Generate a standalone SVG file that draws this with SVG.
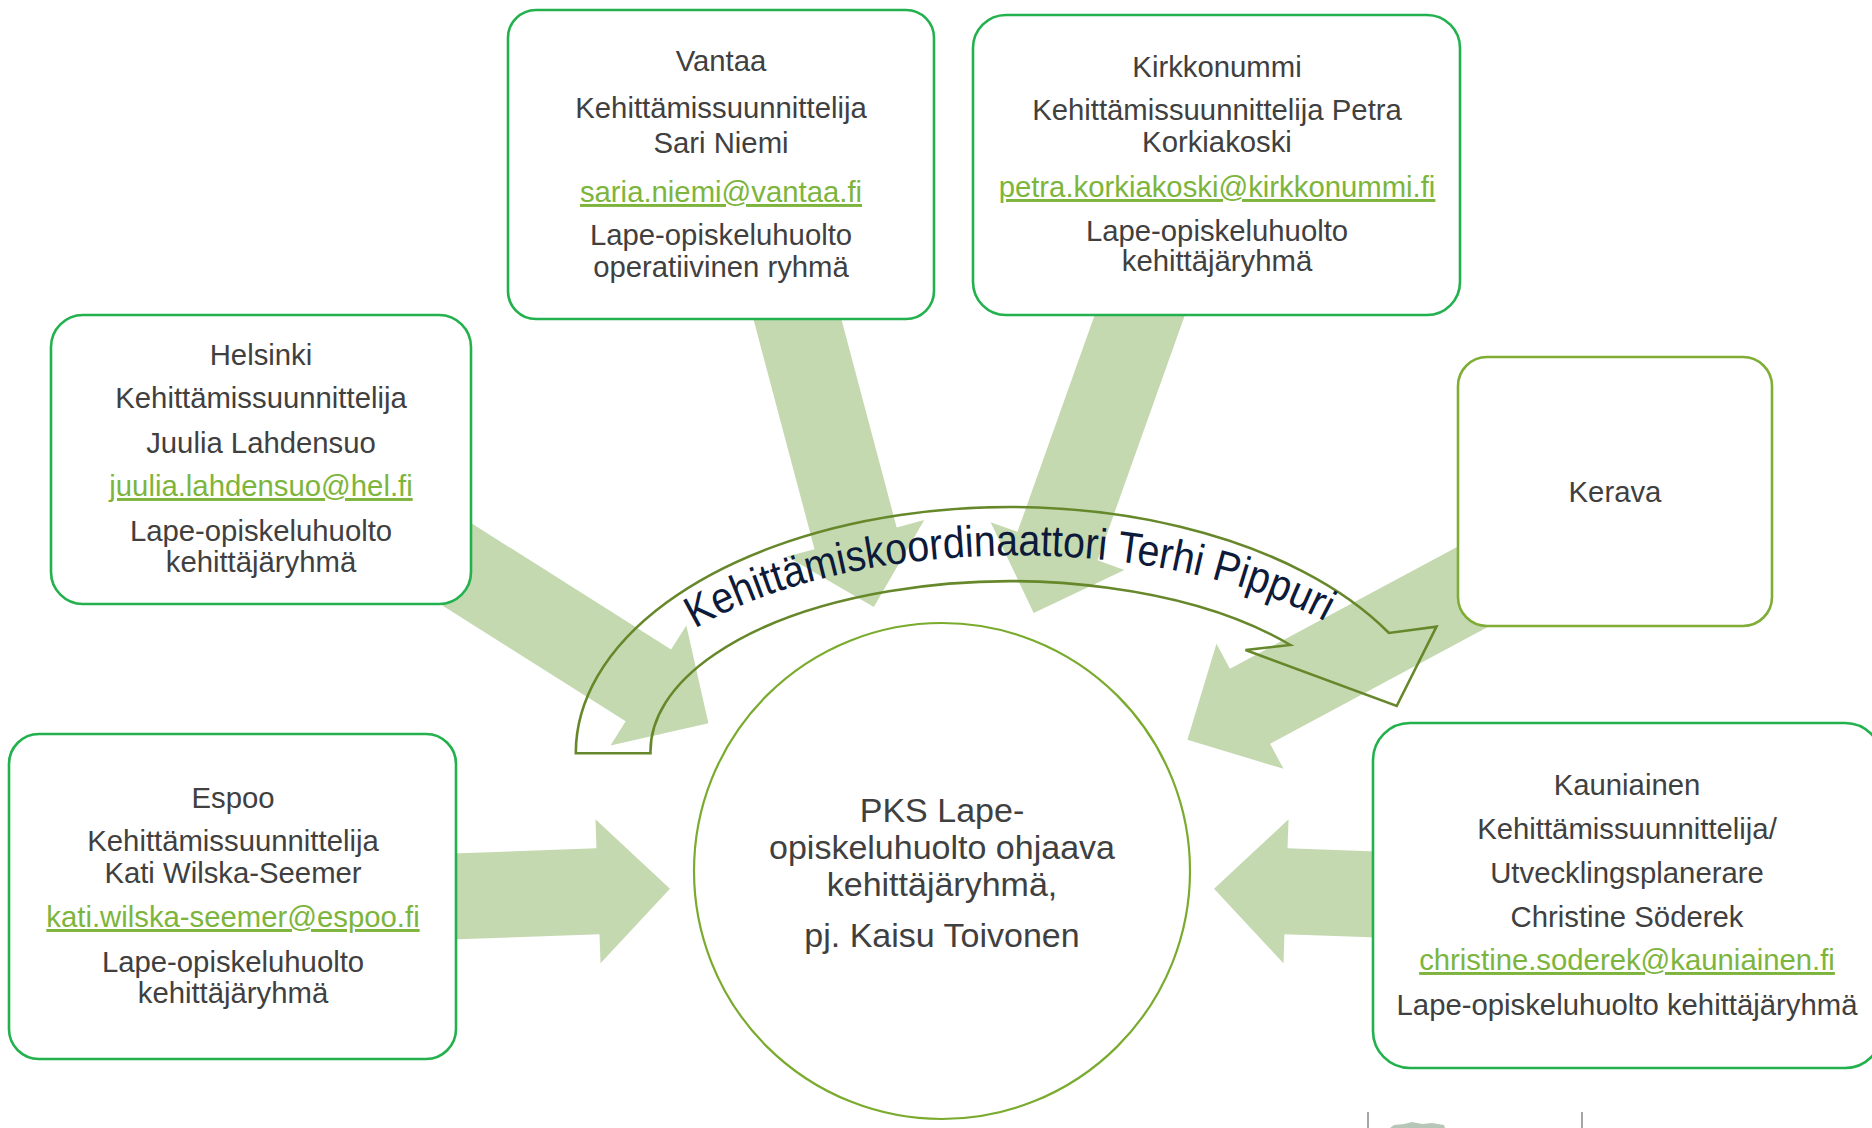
<svg xmlns="http://www.w3.org/2000/svg" width="1872" height="1128" viewBox="0 0 1872 1128">
<style>
.bg{fill:#ffffff}
.blk{fill:#c4d9b0;stroke:none}
.box{fill:#ffffff;stroke:#22b14c;stroke-width:2.6}
.boxo{fill:#ffffff;stroke:#7fad36;stroke-width:2.6}
.circ{fill:#ffffff;stroke:#7aab2e;stroke-width:2.2}
.band{fill:none;stroke:#66882a;stroke-width:2.6;stroke-linejoin:miter}
text{font-family:"Liberation Sans",Arial,sans-serif;text-anchor:middle}
.t{font-size:29.3px;fill:#404040}
.m{font-size:29.3px;fill:#7db53c;text-decoration:underline}
.c{font-size:34px;fill:#404040}
.arc{font-size:44px;fill:#0d1a3a;text-anchor:start}
.logo{stroke:#a6a6a6;stroke-width:2}
</style>
<defs>
<path id="textArc" d="M 683 636 A 414 198 0 0 1 1340 630"/>
</defs>
<rect class="bg" x="0" y="0" width="1872" height="1128"/>

<g id="connectors">
<path class="blk" transform="translate(855.6,538.3) rotate(75.13)" d="M-250,-42.5 H0 V-71 L71,0 L0,71 V42.5 H-250 Z"/>
<path class="blk" transform="translate(1057.5,546.1) rotate(109.6)" d="M-270,-42.5 H0 V-71 L71,0 L0,71 V42.5 H-270 Z"/>
<path class="blk" transform="translate(648.4,685.4) rotate(32.3)" d="M-260,-42.5 H0 V-71 L71,0 L0,71 V42.5 H-260 Z"/>
<path class="blk" transform="translate(598,891.3) rotate(-2.03)" d="M-200,-43 H0 V-72 L72,0 L0,72 V43 H-200 Z"/>
<path class="blk" transform="translate(1286,891.3) rotate(182.03)" d="M-200,-43 H0 V-72 L72,0 L0,72 V43 H-200 Z"/>
<path class="blk" transform="translate(1250,706.3) rotate(151.8)" d="M-300,-42.5 H0 V-71 L71,0 L0,71 V42.5 H-300 Z"/>
</g>

<g id="node-vantaa">
<rect class="box" x="508" y="10" width="426" height="309" rx="28"/>
<text class="t" x="721" y="71">Vantaa</text>
<text class="t" x="721" y="118">Kehittämissuunnittelija</text>
<text class="t" x="721" y="153">Sari Niemi</text>
<text class="m" x="721" y="202">saria.niemi@vantaa.fi</text>
<text class="t" x="721" y="245">Lape-opiskeluhuolto</text>
<text class="t" x="721" y="277">operatiivinen ryhmä</text>
</g>

<g id="node-kirkkonummi">
<rect class="box" x="973" y="15" width="487" height="300" rx="33"/>
<text class="t" x="1217" y="77">Kirkkonummi</text>
<text class="t" x="1217" y="120">Kehittämissuunnittelija Petra</text>
<text class="t" x="1217" y="152">Korkiakoski</text>
<text class="m" x="1217" y="197">petra.korkiakoski@kirkkonummi.fi</text>
<text class="t" x="1217" y="241">Lape-opiskeluhuolto</text>
<text class="t" x="1217" y="271">kehittäjäryhmä</text>
</g>

<g id="node-helsinki">
<rect class="box" x="51" y="315" width="420" height="289" rx="32"/>
<text class="t" x="261" y="365">Helsinki</text>
<text class="t" x="261" y="408">Kehittämissuunnittelija</text>
<text class="t" x="261" y="453">Juulia Lahdensuo</text>
<text class="m" x="261" y="496">juulia.lahdensuo@hel.fi</text>
<text class="t" x="261" y="541">Lape-opiskeluhuolto</text>
<text class="t" x="261" y="572">kehittäjäryhmä</text>
</g>

<g id="node-espoo">
<rect class="box" x="9" y="734" width="447" height="325" rx="30"/>
<text class="t" x="233" y="808">Espoo</text>
<text class="t" x="233" y="851">Kehittämissuunnittelija</text>
<text class="t" x="233" y="883">Kati Wilska-Seemer</text>
<text class="m" x="233" y="927">kati.wilska-seemer@espoo.fi</text>
<text class="t" x="233" y="972">Lape-opiskeluhuolto</text>
<text class="t" x="233" y="1003">kehittäjäryhmä</text>
</g>

<g id="node-kerava">
<rect class="boxo" x="1458" y="357" width="314" height="269" rx="29"/>
<text class="t" x="1615" y="502">Kerava</text>
</g>

<g id="node-kauniainen">
<rect class="box" x="1373" y="723" width="509" height="345" rx="37"/>
<text class="t" x="1627" y="795">Kauniainen</text>
<text class="t" x="1627" y="839">Kehittämissuunnittelija/</text>
<text class="t" x="1627" y="883">Utvecklingsplanerare</text>
<text class="t" x="1627" y="927">Christine Söderek</text>
<text class="m" x="1627" y="970">christine.soderek@kauniainen.fi</text>
<text class="t" x="1627" y="1015">Lape-opiskeluhuolto kehittäjäryhmä</text>
</g>

<g id="node-center">
<circle class="circ" cx="942" cy="871" r="248"/>
<text class="c" x="942" y="822">PKS Lape-</text>
<text class="c" x="942" y="859">opiskeluhuolto ohjaava</text>
<text class="c" x="942" y="896">kehittäjäryhmä,</text>
<text class="c" x="942" y="947">pj. Kaisu Toivonen</text>
</g>

<g id="node-coordinator">
<path class="band" d="M 575.8 753.3 A 434.2 246 0 0 1 1389 633 L 1436.5 626.7 L 1396.7 706 L 1245.5 650 L 1290.5 645 A 359.5 170 0 0 0 650.5 753.3 Z"/>
<text class="arc"><textPath href="#textArc" startOffset="14" textLength="652" lengthAdjust="spacingAndGlyphs">Kehittämiskoordinaattori Terhi Pippuri</textPath></text>
</g>

<g id="logo-fragment">
<line class="logo" x1="1368" y1="1112" x2="1368" y2="1128"/>
<line class="logo" x1="1582" y1="1112" x2="1582" y2="1128"/>
<path d="M1390 1128 L1394 1125 L1404 1124 L1412 1122 L1422 1124 L1432 1123 L1444 1125 L1445 1128 Z" fill="#6f8f6f" opacity="0.5"/>
</g>
</svg>
